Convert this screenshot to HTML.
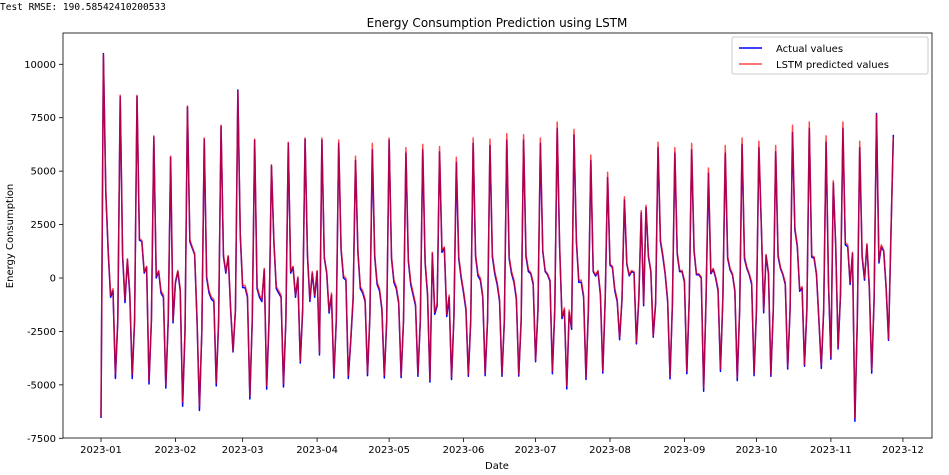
<!DOCTYPE html>
<html><head><meta charset="utf-8"><style>
body{margin:0;background:#fff;width:949px;height:475px;overflow:hidden;font-family:"DejaVu Sans","Liberation Sans",sans-serif}
svg{display:block}
</style></head><body>
<svg id="chart" width="949" height="475" xmlns="http://www.w3.org/2000/svg">
<text x="0" y="10" font-family="DejaVu Sans Mono, Liberation Mono, monospace" font-size="9.5" fill="#000">Test RMSE: 190.58542410200533</text>
<text x="497" y="27" text-anchor="middle" font-size="12">Energy Consumption Prediction using LSTM</text>
<text x="0" y="0" transform="translate(13,236) rotate(-90)" text-anchor="middle" font-size="10">Energy Consumption</text>
<text x="497" y="469" text-anchor="middle" font-size="10">Date</text>
<g id="grid"></g>
<g id="series"></g>
<rect x="63" y="33" width="869" height="405" fill="none" stroke="#000" stroke-width="0.8"/>
<g>
<rect x="732" y="37" width="196" height="37" rx="2" fill="#fff" fill-opacity="0.8" stroke="#ccc"/>
<line x1="739" y1="48" x2="762" y2="48" stroke="#0000ff" stroke-width="1.5"/>
<text x="776" y="52" font-size="10">Actual values</text>
<line x1="739" y1="64" x2="762" y2="64" stroke="#ff0000" stroke-opacity="0.7" stroke-width="1.5"/>
<text x="776" y="68" font-size="10">LSTM predicted values</text>
</g>
</svg>
<script>
const yTicks=[10000,7500,5000,2500,0,-2500,-5000,-7500];
const xTickLabels=["2023-01","2023-02","2023-03","2023-04","2023-05","2023-06","2023-07","2023-08","2023-09","2023-10","2023-11","2023-12"];
const xTickDays=[0,31,59,90,120,151,181,212,243,273,304,334];
const actual=[-6550,
10500,4000,1200,-900,-600,-4700,-2000,
8500,1000,-1150,850,-800,-4700,-2000,
8500,1780,1700,230,500,-4960,-2000,
6600,0,300,-700,-900,-5150,-2000,
5650,-2100,-230,300,-600,-6000,-2500,
8000,1700,1400,1100,-2000,-6200,-2500,
6500,0,-700,-1000,-1100,-5050,-2000,
7100,1000,230,1000,-1500,-3460,-1500,
8800,2000,-450,-450,-900,-5660,-2000,
6450,-500,-900,-1100,400,-5200,-2000,
5250,1700,-500,-700,-900,-5100,-2000,
6300,230,500,-900,0,-3980,-1500,
6500,1000,-1100,230,-900,300,-3600,
6460,940,230,-1640,-800,-4680,-2000,
6300,1300,0,-100,-4700,-3000,-1000,
5500,1200,-500,-700,-1100,-4570,-1800,
6000,1000,-300,-600,-1500,-4680,-2000,
6450,900,-200,-500,-1200,-4660,-2000,
5850,800,-300,-800,-1300,-4600,-2000,
6000,700,-800,-4870,1150,-1700,-1300,
5900,1200,1400,-1800,-900,-4750,-1800,
5400,900,0,-700,-1500,-4600,-2000,
6300,1000,100,-100,-900,-4570,-2000,
6200,1000,200,-300,-1100,-4600,-2000,
6450,900,200,-200,-1000,-4590,-2000,
6450,1000,300,200,-300,-3920,-1500,
6300,1240,300,150,-150,-4480,-1500,
7000,1500,-1900,-1500,-5190,-1600,-2400,
6700,1700,-200,-200,-900,-4750,-1500,
5500,300,90,300,-800,-4450,-1000,
4700,600,500,-600,-1100,-2890,-1000,
3650,650,100,300,250,-3080,-1000,
3050,-1300,3300,1000,300,-2770,-1200,
6100,1700,1000,150,-1100,-4720,-1200,
5850,1100,300,300,-200,-4480,-1000,
6000,1250,150,150,0,-5300,-1000,
4900,200,400,0,-600,-4370,-1000,
5850,920,380,150,-620,-4800,-1500,
6250,900,440,150,-300,-4570,-1500,
6100,2500,-1630,1050,200,-4600,-1500,
5900,1000,440,150,-300,-4260,-1500,
6800,2250,1470,-620,-470,-4130,-1500,
7000,980,920,150,-2000,-4230,-1500,
6350,-300,-3800,4450,1500,-3320,-800,
7000,1550,1470,-300,1150,-6700,-2000,
6100,1000,-100,1550,-470,-4450,-1000,
7700,700,1470,1250,-470,-2920,2000,
6700];
const predicted=[-6500,
10450,4100,1300,-800,-500,-4500,-1900,
8550,1100,-1000,900,-700,-4500,-1900,
8550,1850,1750,300,550,-4800,-1900,
6650,100,350,-600,-800,-5000,-1900,
5700,-2000,-150,350,-500,-5800,-2400,
8050,1800,1450,1150,-1900,-6000,-2400,
6550,100,-600,-900,-1000,-4900,-1900,
7150,1100,300,1050,-1400,-3400,-1400,
8750,2100,-350,-350,-800,-5500,-1900,
6500,-400,-800,-1000,450,-5050,-1900,
5300,1750,-400,-600,-800,-4950,-1900,
6350,300,550,-800,50,-3900,-1400,
6550,1100,-1000,300,-800,350,-3500,
6550,1000,300,-1550,-700,-4550,-1900,
6450,1400,100,0,-4550,-2900,-900,
5700,1300,-400,-600,-1000,-4450,-1700,
6300,1100,-200,-500,-1400,-4550,-1900,
6550,1000,-100,-400,-1100,-4550,-1900,
6100,900,-200,-700,-1200,-4500,-1900,
6250,800,-700,-4750,1200,-1600,-1200,
6150,1300,1450,-1700,-800,-4650,-1700,
5650,1000,100,-600,-1400,-4500,-1900,
6550,1100,200,0,-800,-4450,-1900,
6500,1100,300,-200,-1000,-4500,-1900,
6750,1000,300,-100,-900,-4500,-1900,
6700,1100,400,250,-200,-3850,-1400,
6550,1300,350,200,-100,-4350,-1400,
7300,1600,-1800,-1400,-5050,-1500,-2300,
6950,1800,-100,-100,-800,-4650,-1400,
5750,350,150,350,-700,-4350,-900,
4950,650,550,-500,-1000,-2800,-900,
3800,700,150,350,300,-3000,-900,
3150,-1200,3400,1050,350,-2700,-1100,
6350,1800,1100,200,-1000,-4600,-1100,
6100,1200,350,350,-100,-4350,-900,
6300,1350,200,200,50,-5150,-900,
5150,250,450,50,-500,-4250,-900,
6200,1000,450,200,-550,-4650,-1400,
6550,1000,500,200,-200,-4450,-1400,
6400,2600,-1500,1100,250,-4500,-1400,
6200,1100,500,200,-200,-4150,-1400,
7150,2350,1550,-550,-400,-4050,-1400,
7300,1050,1000,200,-1900,-4100,-1400,
6650,-200,-3700,4550,1550,-3250,-700,
7300,1650,1550,-200,1200,-6550,-1900,
6400,1100,0,1600,-400,-4300,-900,
7650,800,1550,1300,-400,-2850,2050,
6600];
const X0=101,PXD=2.401,Y0=278,PXV=0.021371;
function xs(d){return X0+PXD*d;}
function ys(v){return Y0-v*PXV;}
const NS="http://www.w3.org/2000/svg";
const grid=document.getElementById('grid');
yTicks.forEach(v=>{
  const y=ys(v);
  const t=document.createElementNS(NS,'line');
  t.setAttribute('x1',59);t.setAttribute('x2',63);t.setAttribute('y1',y);t.setAttribute('y2',y);t.setAttribute('stroke','#000');t.setAttribute('stroke-width','0.8');
  
  
  grid.appendChild(t);
  const l=document.createElementNS(NS,'text');
  l.setAttribute('x',56);l.setAttribute('y',y+3.5);l.setAttribute('text-anchor','end');l.setAttribute('font-size','10');
  l.textContent=String(v);
  
  
  grid.appendChild(l);
});
xTickDays.forEach((d,i)=>{
  const x=xs(d);
  const t=document.createElementNS(NS,'line');
  t.setAttribute('x1',x);t.setAttribute('x2',x);t.setAttribute('y1',438);t.setAttribute('y2',442);t.setAttribute('stroke','#000');t.setAttribute('stroke-width','0.8');
  
  
  grid.appendChild(t);
  const l=document.createElementNS(NS,'text');
  l.setAttribute('x',x);l.setAttribute('y',453);l.setAttribute('text-anchor','middle');l.setAttribute('font-size','10');
  l.textContent=xTickLabels[i];
  
  
  grid.appendChild(l);
});
function pathFor(arr){return arr.map((v,i)=>(i?'L':'M')+xs(i).toFixed(2)+','+ys(v).toFixed(2)).join('');}
const series=document.getElementById('series');
const pa=document.createElementNS(NS,'path');
pa.setAttribute('d',pathFor(actual));pa.setAttribute('fill','none');pa.setAttribute('stroke','#0000ff');pa.setAttribute('stroke-width','1.5');pa.setAttribute('stroke-linejoin','round');


series.appendChild(pa);
const pp=document.createElementNS(NS,'path');
pp.setAttribute('d',pathFor(predicted));pp.setAttribute('fill','none');pp.setAttribute('stroke','#ff0000');pp.setAttribute('stroke-opacity','0.7');pp.setAttribute('stroke-width','1.5');pp.setAttribute('stroke-linejoin','round');


series.appendChild(pp);
</script>
</body></html>
